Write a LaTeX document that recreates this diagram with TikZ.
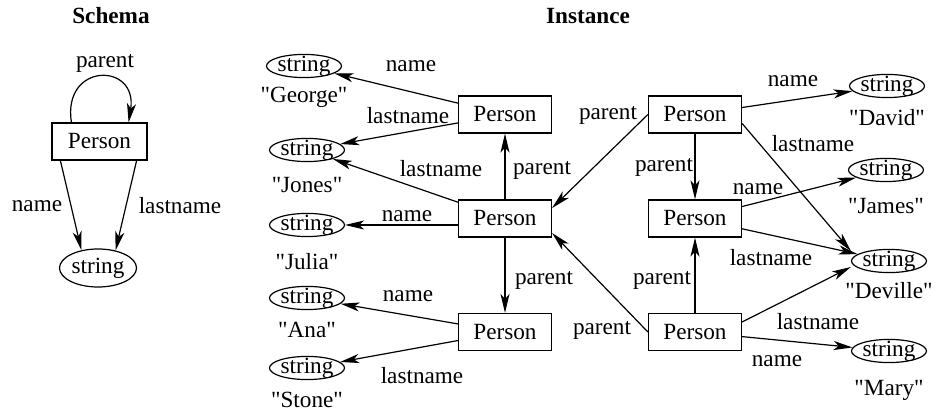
\documentclass[tikz,border=0pt]{standalone}
\usepackage{fontspec}
\setmainfont{Liberation Serif}[Ligatures=TeXOff]
\usetikzlibrary{arrows.meta}
\usetikzlibrary{shapes.geometric}

\begin{document}
\begin{tikzpicture}[x=0.5pt,y=-0.5pt,
    font=\fontsize{11.6}{14}\selectfont,
    line width=0.6pt,
    >={Stealth[length=9.5pt,width=4.5pt,inset=2.5pt]},
    title/.style={font=\fontsize{11.6}{14}\selectfont\bfseries},
    person/.style={draw,rectangle,minimum width=46.5pt,minimum height=18.5pt,inner sep=0pt},
    strnode/.style={draw,ellipse,minimum width=37.5pt,inner xsep=0pt,inner ysep=-1pt}]
    \useasboundingbox (0,0) rectangle (941,415);

    \node[title] (schema) at (111,16) {Schema};
    \node[title] (instance) at (588,16) {Instance};

    % schema
    \node[person,minimum width=47.5pt] (sperson) at (99.5,141.5) {Person};
    \node[draw,ellipse,minimum width=38.5pt,minimum height=19pt,inner sep=0pt] (sstring) at (98,268) {string};
    \draw[->] ([xshift=10pt]sperson.north west) .. controls (62,62) and (138,62) .. ([xshift=-9.5pt]sperson.north east);
    \draw[->] ([xshift=4.5pt]sperson.south west) -- (sstring.133);
    \draw[->] ([xshift=-5.5pt]sperson.south east) -- (sstring.45);

    % instance
    \node[person] (pgeorge) at (505,114.5) {Person};
    \node[person] (pjulia) at (505,218.5) {Person};
    \node[person] (pana) at (505,332) {Person};
    \node[person] (pdavid) at (695,114.5) {Person};
    \node[person] (pjames) at (695,218.5) {Person};
    \node[person] (pmary) at (695,332) {Person};

    \foreach \n/\x/\y/\v/\w in {george/304/66/George/97, jones/307/150/Jones/185,
        julia/307/225/Julia/262, ana/307/298/Ana/330, stone/307/368/Stone/400,
        david/887/86/David/118, james/886/170/James/206,
        deville/889/261/Deville/291, mary/889/351/Mary/390}{
        \node[strnode] (s\n) at (\x,\y) {string};
        \node (v\n) at (\x,\w) {"\v"};
    }

    \draw[->] (pgeorge) -- (sgeorge);
    \draw[->] (pgeorge) -- (sjones);
    \draw[->] (pjulia) -- (pgeorge);
    \draw[->] (pjulia) -- (sjones);
    \draw[->] ([yshift=-3.25pt]pjulia.west) -- (sjulia);
    \draw[->] (pjulia) -- (pana);
    \draw[->] (pana) -- (sana);
    \draw[->] (pana) -- (sstone);
    \draw[->] (pdavid.west) -- ([yshift=5.25pt]pjulia.east);
    \draw[->] (pdavid) -- (sdavid);
    \draw[->] ([yshift=-4.5pt]pdavid.east) -- ([yshift=5pt]sdeville.west);
    \draw[->] (pdavid) -- (pjames);
    \draw[->] (pjames) -- (sjames);
    \draw[->] (pjames) -- (sdeville);
    \draw[->] (pmary) -- (pjames);
    \draw[->] (pmary.west) -- ([yshift=-7.25pt]pjulia.east);
    \draw[->] ([yshift=5pt]pmary.east) -- ([yshift=-3pt]sdeville.west);
    \draw[->] (pmary) -- (smary);

    \foreach \t/\x/\y [count=\i] in {parent/105/63, name/37/206, lastname/180/206,
        name/411/66, lastname/408/116, lastname/441/169, parent/542/170,
        name/407/216, parent/544/280, name/408/296, lastname/422/376,
        parent/608/115, name/793/81, lastname/813/144, parent/664/167,
        name/758/189, lastname/771/258, parent/662/280, parent/602/330,
        lastname/818/322, name/777/361}{
        \node (lab\i) at (\x,\y) {\t};
    }
\end{tikzpicture}
\end{document}
